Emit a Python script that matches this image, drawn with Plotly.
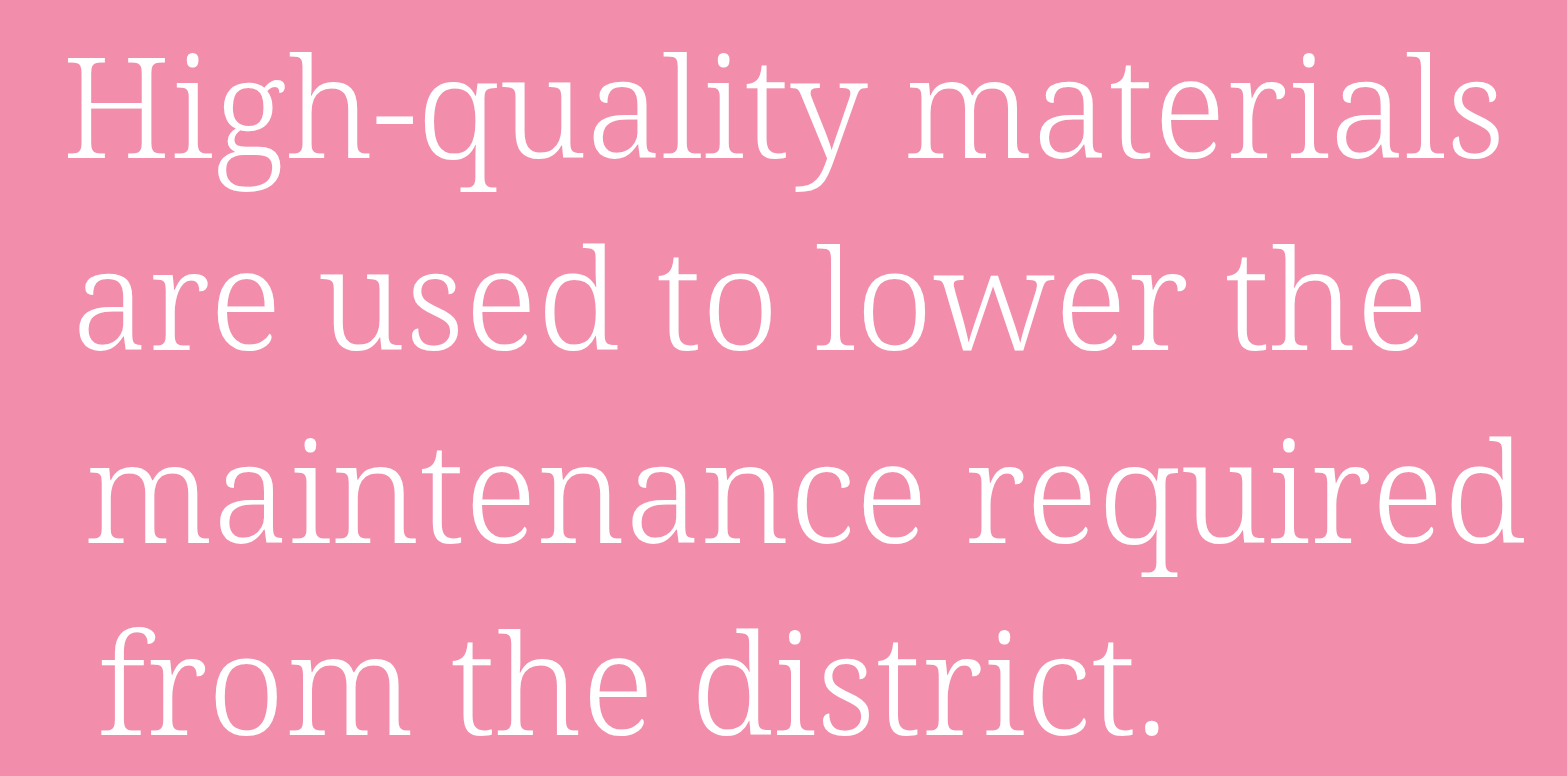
import plotly.graph_objects as go

lines = [
    "High-quality materials",
    "are used to lower the",
    "maintenance required",
    "from the district.",
]
left_px = [60, 70, 82, 95]
baseline_px = [158, 350, 543, 735]

W, H = 1567, 776
BG = "#F28EAC"
FONT = "Noto Serif"
FONT_SIZE = 140
DESC = 0.293 * FONT_SIZE + 2  # baseline to annotation-box bottom

fig = go.Figure()
for txt, lx, by in zip(lines, left_px, baseline_px):
    fig.add_annotation(
        text=txt, x=lx / W, y=1 - (by + DESC) / H, xref="paper", yref="paper",
        xanchor="left", yanchor="bottom", showarrow=False,
        font=dict(family=FONT, size=FONT_SIZE, color="white", weight=300),
    )

fig.update_layout(
    width=W, height=H, margin=dict(l=0, r=0, t=0, b=0),
    paper_bgcolor=BG, plot_bgcolor=BG,
    xaxis=dict(visible=False, range=[0, 1]),
    yaxis=dict(visible=False, range=[0, 1]),
    showlegend=False,
)
fig.write_html(
    "out.html",
    config={"displayModeBar": False, "staticPlot": True},
    post_script="document.body.style.margin='0';document.body.style.overflow='hidden';document.body.style.background='%s';" % BG,
)
